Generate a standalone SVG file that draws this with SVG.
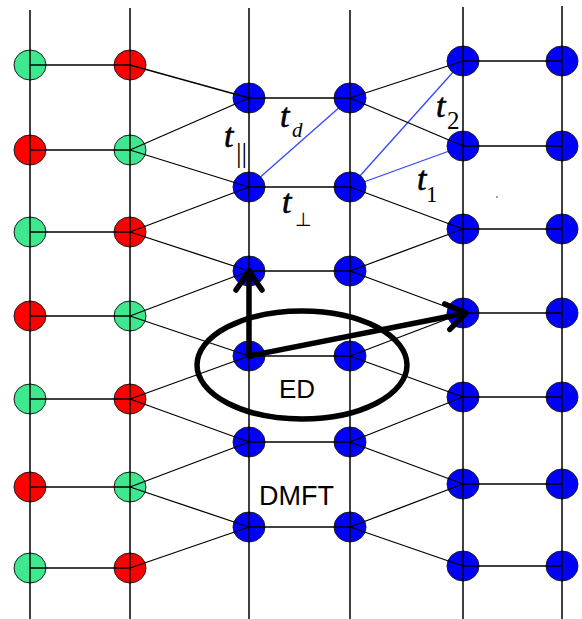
<svg xmlns="http://www.w3.org/2000/svg" width="582" height="619" viewBox="0 0 582 619">
<style>
.n{stroke:#1a1a1a;stroke-width:1}
.g{fill:#3ee88e}
.r{fill:#ff0000}
.b{fill:#0000ff}
.ln line{stroke:#000;stroke-width:1.3}
.vl line{stroke:#000;stroke-width:1.5}
.bl line{stroke:#3344ff;stroke-width:1.3}
.big{fill:none;stroke:#000;stroke-width:5.5;stroke-linecap:round;stroke-linejoin:round}
.t{font-family:"Liberation Serif","Times New Roman",serif;font-style:italic;font-size:34px;fill:#000;stroke:#000;stroke-width:0.6}
.s{font-family:"Liberation Serif","Times New Roman",serif;fill:#000}
.lbl{font-family:"Liberation Sans",Arial,sans-serif;font-size:26px;fill:#000}
</style>
<defs>
<marker id="ah" markerUnits="userSpaceOnUse" markerWidth="40" markerHeight="40" refX="0" refY="0" viewBox="-25 -20 30 40" orient="auto" overflow="visible">
<path d="M-19,-13 L0,0 L-19,13" fill="none" stroke="#000" stroke-width="5.5" stroke-linecap="round" stroke-linejoin="round"/>
</marker>
</defs>
<rect width="582" height="619" fill="#fff"/>
<g id="hopping-blue" class="bl">
<line x1="249" y1="187" x2="350" y2="98"/>
<line x1="350" y1="187" x2="463" y2="61"/>
<line x1="350" y1="187" x2="463" y2="146"/>
</g>
<g id="nodes" class="n">
<g id="A1"><ellipse class="g" cx="30" cy="65" rx="16" ry="15"/></g>
<g id="A2"><ellipse class="r" cx="30" cy="150" rx="16" ry="15"/></g>
<g id="A3"><ellipse class="g" cx="30" cy="232" rx="16" ry="15"/></g>
<g id="A4"><ellipse class="r" cx="30" cy="316" rx="16" ry="15"/></g>
<g id="A5"><ellipse class="g" cx="30" cy="399" rx="16" ry="15"/></g>
<g id="A6"><ellipse class="r" cx="30" cy="487" rx="16" ry="15"/></g>
<g id="A7"><ellipse class="g" cx="30" cy="568" rx="16" ry="15"/></g>
<g id="B1"><ellipse class="r" cx="130" cy="65" rx="16" ry="15"/></g>
<g id="B2"><ellipse class="g" cx="130" cy="150" rx="16" ry="15"/></g>
<g id="B3"><ellipse class="r" cx="130" cy="232" rx="16" ry="15"/></g>
<g id="B4"><ellipse class="g" cx="130" cy="316" rx="16" ry="15"/></g>
<g id="B5"><ellipse class="r" cx="130" cy="399" rx="16" ry="15"/></g>
<g id="B6"><ellipse class="g" cx="130" cy="487" rx="16" ry="15"/></g>
<g id="B7"><ellipse class="r" cx="130" cy="568" rx="16" ry="15"/></g>
<g id="C1"><ellipse class="b" cx="249" cy="98" rx="16" ry="15"/></g>
<g id="C2"><ellipse class="b" cx="249" cy="187" rx="16" ry="15"/></g>
<g id="C3"><ellipse class="b" cx="249" cy="271" rx="16" ry="15"/></g>
<g id="C4"><ellipse class="b" cx="249" cy="356" rx="16" ry="15"/></g>
<g id="C5"><ellipse class="b" cx="249" cy="442" rx="16" ry="15"/></g>
<g id="C6"><ellipse class="b" cx="249" cy="527" rx="16" ry="15"/></g>
<g id="D1"><ellipse class="b" cx="350" cy="98" rx="16" ry="15"/></g>
<g id="D2"><ellipse class="b" cx="350" cy="187" rx="16" ry="15"/></g>
<g id="D3"><ellipse class="b" cx="350" cy="271" rx="16" ry="15"/></g>
<g id="D4"><ellipse class="b" cx="350" cy="356" rx="16" ry="15"/></g>
<g id="D5"><ellipse class="b" cx="350" cy="442" rx="16" ry="15"/></g>
<g id="D6"><ellipse class="b" cx="350" cy="527" rx="16" ry="15"/></g>
<g id="E1"><ellipse class="b" cx="463" cy="61" rx="16" ry="15"/></g>
<g id="E2"><ellipse class="b" cx="463" cy="146" rx="16" ry="15"/></g>
<g id="E3"><ellipse class="b" cx="463" cy="229" rx="16" ry="15"/></g>
<g id="E4"><ellipse class="b" cx="463" cy="313" rx="16" ry="15"/></g>
<g id="E5"><ellipse class="b" cx="463" cy="397" rx="16" ry="15"/></g>
<g id="E6"><ellipse class="b" cx="463" cy="484" rx="16" ry="15"/></g>
<g id="E7"><ellipse class="b" cx="463" cy="566" rx="16" ry="15"/></g>
<g id="F1"><ellipse class="b" cx="562" cy="61" rx="16" ry="15"/></g>
<g id="F2"><ellipse class="b" cx="562" cy="146" rx="16" ry="15"/></g>
<g id="F3"><ellipse class="b" cx="562" cy="229" rx="16" ry="15"/></g>
<g id="F4"><ellipse class="b" cx="562" cy="313" rx="16" ry="15"/></g>
<g id="F5"><ellipse class="b" cx="562" cy="397" rx="16" ry="15"/></g>
<g id="F6"><ellipse class="b" cx="562" cy="484" rx="16" ry="15"/></g>
<g id="F7"><ellipse class="b" cx="562" cy="566" rx="16" ry="15"/></g>
</g>
<g id="connectors">
<g class="vl">
<line x1="30" y1="10" x2="30" y2="619"/>
<line x1="130" y1="8" x2="130" y2="619"/>
<line x1="249" y1="8" x2="249" y2="619"/>
<line x1="350" y1="10" x2="350" y2="619"/>
<line x1="463" y1="7" x2="463" y2="619"/>
<line x1="562" y1="6" x2="562" y2="619"/>
</g>
<g class="ln">
<line x1="30" y1="65" x2="130" y2="65"/>
<line x1="30" y1="150" x2="130" y2="150"/>
<line x1="30" y1="232" x2="130" y2="232"/>
<line x1="30" y1="316" x2="130" y2="316"/>
<line x1="30" y1="399" x2="130" y2="399"/>
<line x1="30" y1="487" x2="130" y2="487"/>
<line x1="30" y1="568" x2="130" y2="568"/>
<line x1="130" y1="65" x2="249" y2="98"/>
<line x1="130" y1="150" x2="249" y2="98"/>
<line x1="130" y1="150" x2="249" y2="187"/>
<line x1="130" y1="232" x2="249" y2="187"/>
<line x1="130" y1="232" x2="249" y2="271"/>
<line x1="130" y1="316" x2="249" y2="271"/>
<line x1="130" y1="316" x2="249" y2="356"/>
<line x1="130" y1="399" x2="249" y2="356"/>
<line x1="130" y1="399" x2="249" y2="442"/>
<line x1="130" y1="487" x2="249" y2="442"/>
<line x1="130" y1="487" x2="249" y2="527"/>
<line x1="130" y1="568" x2="249" y2="527"/>
<line x1="249" y1="98" x2="350" y2="98"/>
<line x1="249" y1="187" x2="350" y2="187"/>
<line x1="249" y1="271" x2="350" y2="271"/>
<line x1="249" y1="356" x2="350" y2="356"/>
<line x1="249" y1="442" x2="350" y2="442"/>
<line x1="249" y1="527" x2="350" y2="527"/>
<line x1="350" y1="98" x2="463" y2="61"/>
<line x1="350" y1="98" x2="463" y2="146"/>
<line x1="350" y1="187" x2="463" y2="229"/>
<line x1="350" y1="271" x2="463" y2="229"/>
<line x1="350" y1="271" x2="463" y2="313"/>
<line x1="350" y1="356" x2="463" y2="313"/>
<line x1="350" y1="356" x2="463" y2="397"/>
<line x1="350" y1="442" x2="463" y2="397"/>
<line x1="350" y1="442" x2="463" y2="484"/>
<line x1="350" y1="527" x2="463" y2="484"/>
<line x1="350" y1="527" x2="463" y2="566"/>
<line x1="463" y1="61" x2="562" y2="61"/>
<line x1="463" y1="146" x2="562" y2="146"/>
<line x1="463" y1="229" x2="562" y2="229"/>
<line x1="463" y1="313" x2="562" y2="313"/>
<line x1="463" y1="397" x2="562" y2="397"/>
<line x1="463" y1="484" x2="562" y2="484"/>
<line x1="463" y1="566" x2="562" y2="566"/>
</g>
</g>
<g id="ED-cluster">
<ellipse class="big" cx="302" cy="365" rx="105" ry="54"/>
<line class="big" x1="249" y1="356" x2="249" y2="271" marker-end="url(#ah)"/>
<line class="big" x1="249" y1="356" x2="466" y2="313" marker-end="url(#ah)"/>
</g>
<g id="labels">
<text class="t" x="280" y="127">t</text><text class="s" x="292" y="137" style="font-style:italic;font-size:21px">d</text>
<text class="t" x="224" y="147">t</text><text class="s" x="236" y="162" style="font-size:28px">||</text>
<text class="t" x="282" y="213">t</text><text x="295" y="226" style="font-family:'DejaVu Sans',sans-serif;font-size:19px;fill:#000">⊥</text>
<text class="t" x="436" y="117">t</text><text class="s" x="447" y="129" style="font-size:25px">2</text>
<text class="t" x="417" y="190">t</text><text class="s" x="426" y="202" style="font-size:23px">1</text>
<text class="lbl" x="279" y="398">ED</text>
<text class="lbl" x="259" y="505" style="font-size:27px">DMFT</text>
</g>
<circle cx="497" cy="197" r="0.9" fill="#777"/>
</svg>
